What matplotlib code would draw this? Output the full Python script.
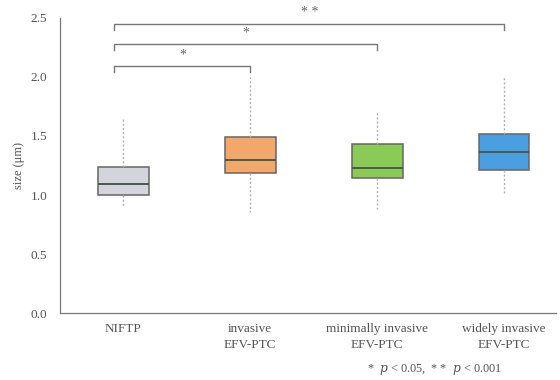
import matplotlib
matplotlib.use("Agg")
import matplotlib.pyplot as plt

categories = ["NIFTP", "invasive\nEFV-PTC", "minimally invasive\nEFV-PTC", "widely invasive\nEFV-PTC"]
q1 = [1.00, 1.19, 1.14, 1.21]
med = [1.09, 1.30, 1.23, 1.36]
q3 = [1.24, 1.49, 1.43, 1.52]
whislo = [0.90, 0.86, 0.87, 1.02]
whishi = [1.65, 2.00, 1.70, 2.00]
colors = ["#d3d4dc", "#f2a86a", "#8acb58", "#4a9fe2"]
ylabel = "size (μm)"
yticks = [0.0, 0.5, 1.0, 1.5, 2.0, 2.5]
# significance brackets: (from, to, height, label)
sig_from = [0, 0, 0]
sig_to = [1, 2, 3]
sig_y = [2.09, 2.28, 2.45]
sig_lab = ["*", "*", "* *"]

plt.rcParams['font.family'] = ['Liberation Serif', 'DejaVu Serif']
fig = plt.figure(figsize=(5.6, 3.8), dpi=100)
ax = fig.add_axes([0.107, 0.176, 0.886, 0.777])

stats = []
for i in range(len(categories)):
    stats.append(dict(q1=q1[i], med=med[i], q3=q3[i], whislo=whislo[i], whishi=whishi[i], fliers=[]))
pos = list(range(len(categories)))
bp = ax.bxp(stats, positions=pos, widths=0.4, patch_artist=True, showfliers=False,
            boxprops=dict(edgecolor="#666666", linewidth=1.1),
            medianprops=dict(color="#4a5a4a", linewidth=1.4),
            whiskerprops=dict(color="#b0b0b0", linewidth=1.0, linestyle=(0, (1.5, 1.5))),
            capprops=dict(linewidth=0))
for patch, c in zip(bp['boxes'], colors):
    patch.set_facecolor(c)

ax.set_xlim(-0.5, 3.41)
ax.set_ylim(0, 2.5)
ax.set_yticks(yticks)
ax.set_yticklabels([f"{v:.1f}" for v in yticks])
ax.set_xticks(pos)
ax.set_xticklabels(categories, linespacing=1.45)
ax.tick_params(axis='both', labelsize=9.5, colors="#555555", length=0, pad=7)
ax.tick_params(axis='y', pad=9)
for s in ['top', 'right']:
    ax.spines[s].set_visible(False)
for s in ['left', 'bottom']:
    ax.spines[s].set_color("#777777")
    ax.spines[s].set_linewidth(0.9)
ax.set_ylabel(ylabel, fontsize=9, color="#555555", labelpad=4)

drop = 0.05
for a, b, h, lab in zip(sig_from, sig_to, sig_y, sig_lab):
    xa = pos[a] - 0.07
    xb = pos[b]
    ax.plot([xa, xa, xb, xb], [h - drop, h, h, h - drop], color="#777777", lw=1.0, clip_on=False)
    ax.text((xa + xb) / 2, h + 0.04, lab, ha='center', va='bottom', fontsize=10, color="#666666", clip_on=False)

fig.text(0.776, 0.022, r"*  $p$ < 0.05,  * *  $p$ < 0.001", fontsize=8.8, color="#555555", ha='center',
         math_fontfamily='dejavuserif')

fig.savefig("out.png", dpi=100, facecolor="white")
